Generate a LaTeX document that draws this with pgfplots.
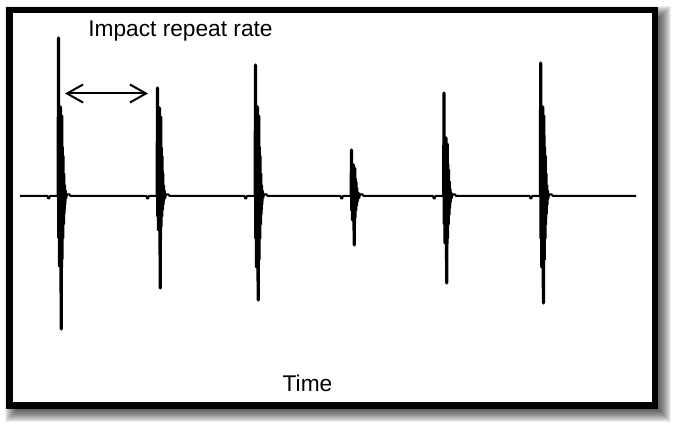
\documentclass[border=0pt]{standalone}
\usepackage{fontspec}
\setmainfont{Liberation Sans}
\usepackage{pgfplots}
\pgfplotsset{compat=1.18}
\usetikzlibrary{arrows.meta}

\begin{document}
\begin{tikzpicture}
\useasboundingbox (0,0) rectangle (338pt,214pt);
% shadow of frame
\foreach \e in {-7,...,7}{
  \fill[black,opacity=0.07] ({(12-\e)*0.5pt},{(13-\e)*0.5pt}) rectangle ({(664+\e)*0.5pt},{(415+\e)*0.5pt});
}
\fill[white] (3pt,9.5pt) rectangle (329pt,210.5pt);
\draw[line width=3.25pt] (4.625pt,11.125pt) rectangle (327.375pt,208.875pt);
\begin{axis}[
  at={(0,0)}, anchor=south west,
  scale only axis, width=338pt, height=214pt,
  xmin=0, xmax=676, ymin=-232, ymax=196,
  hide axis, clip=false,
  spike/.style={black, line width=1.6pt, line join=round, mark=none},
]
% baseline with small ripples
\addplot[black, line width=1pt, line join=round, mark=none] coordinates {
(20,0)
(47.5,0) (48.2,-2.5) (49.2,-2.5) (49.9,0) (66.5,0) (67.3,1.5) (69.7,1.5) (70.5,0)
(146.5,0) (147.2,-2.5) (148.2,-2.5) (148.9,0) (165.5,0) (166.3,1.5) (168.7,1.5) (169.5,0)
(244.5,0) (245.2,-2.5) (246.2,-2.5) (246.9,0) (263.5,0) (264.3,1.5) (266.7,1.5) (267.5,0)
(340.5,0) (341.2,-2.5) (342.2,-2.5) (342.9,0) (359.5,0) (360.3,1.5) (362.7,1.5) (363.5,0)
(433,0) (433.7,-2.5) (434.7,-2.5) (435.4,0) (452,0) (452.8,1.5) (455.2,1.5) (456,0)
(529.7,0) (530.4,-2.5) (531.4,-2.5) (532.1,0) (548.7,0) (549.5,1.5) (551.9,1.5) (552.7,0)
(636,0)
};
% impact 1
\addplot[spike] coordinates {
(58.2,0) (58.5,158) (58.85,-42) (59.2,89) (59.55,-70) (59.9,89) (60.25,-70) (60.6,89) (60.95,-70)
(61.3,-133) (61.65,80) (62.0,-63) (62.35,49) (62.7,-42) (63.05,40) (63.4,-28) (63.75,22)
(64.1,-17.5) (64.45,10.7) (64.8,-8.4) (65.25,5.3) (65.7,-2) (66.15,2) (66.6,0)
};
% impact 2
\addplot[spike] coordinates {
(157.2,0) (157.5,108) (157.85,-20.4) (158.2,88) (158.55,-34) (158.9,88) (159.25,-34) (159.6,88) (159.95,-34)
(160.3,-92) (160.65,79.2) (161.0,-30.6) (161.35,48.4) (161.7,-20.4) (162.05,39.6) (162.4,-13.6) (162.75,22)
(163.1,-8.5) (163.45,10.6) (163.8,-4.1) (164.25,5.3) (164.7,-2) (165.15,2) (165.6,0)
};
% impact 3
\addplot[spike] coordinates {
(255.2,0) (255.5,131) (255.85,-42.6) (256.2,89) (256.55,-71) (256.9,89) (257.25,-71) (257.6,89) (257.95,-71)
(258.3,-104) (258.65,80.1) (259.0,-63.9) (259.35,49) (259.7,-42.6) (260.05,40) (260.4,-28.4) (260.75,22.3)
(261.1,-17.8) (261.45,10.7) (261.8,-8.5) (262.25,5.3) (262.7,-2) (263.15,2) (263.6,0)
};
% impact 4
\addplot[spike] coordinates {
(351.2,0) (351.5,46) (351.85,-14.4) (352.2,31) (352.55,-24) (352.9,31) (353.25,-24) (353.6,31) (353.95,-24)
(354.3,-49) (354.65,27.9) (355.0,-21.6) (355.35,17) (355.7,-14.4) (356.05,14) (356.4,-9.6) (356.75,7.8)
(357.1,-6) (357.45,3.7) (357.8,-2.9) (358.25,1.9) (358.7,-2) (359.15,2) (359.6,0)
};
% impact 5
\addplot[spike] coordinates {
(443.7,0) (444,103) (444.35,-28.2) (444.7,58) (445.05,-47) (445.4,58) (445.75,-47) (446.1,58) (446.45,-47)
(446.8,-87) (447.15,52.2) (447.5,-42.3) (447.85,31.9) (448.2,-28.2) (448.55,26.1) (448.9,-18.8) (449.25,14.5)
(449.6,-11.8) (449.95,7) (450.3,-5.6) (450.75,3.5) (451.2,-2) (451.65,2) (452.1,0)
};
% impact 6
\addplot[spike] coordinates {
(540.4,0) (540.7,133) (541.05,-42.6) (541.4,89) (541.75,-71) (542.1,89) (542.45,-71) (542.8,89) (543.15,-71)
(543.5,-107) (543.85,80.1) (544.2,-63.9) (544.55,49) (544.9,-42.6) (545.25,40) (545.6,-28.4) (545.95,22.3)
(546.3,-17.8) (546.65,10.7) (547.0,-8.5) (547.45,5.3) (547.9,-2) (548.35,2) (548.8,0)
};
\node[anchor=base west, inner sep=0pt, font=\fontsize{11.35}{13.6}\selectfont] at (axis cs:88,159.5) {Impact repeat rate};
\node[anchor=base, inner sep=0pt, font=\fontsize{11.35}{13.6}\selectfont] at (axis cs:307.5,-196) {Time};
\draw[{Straight Barb[length=8pt,width=9pt]}-{Straight Barb[length=8pt,width=9pt]}, line width=1pt] (axis cs:65,102.5) -- (axis cs:148,102.5);
\end{axis}
\end{tikzpicture}
\end{document}
